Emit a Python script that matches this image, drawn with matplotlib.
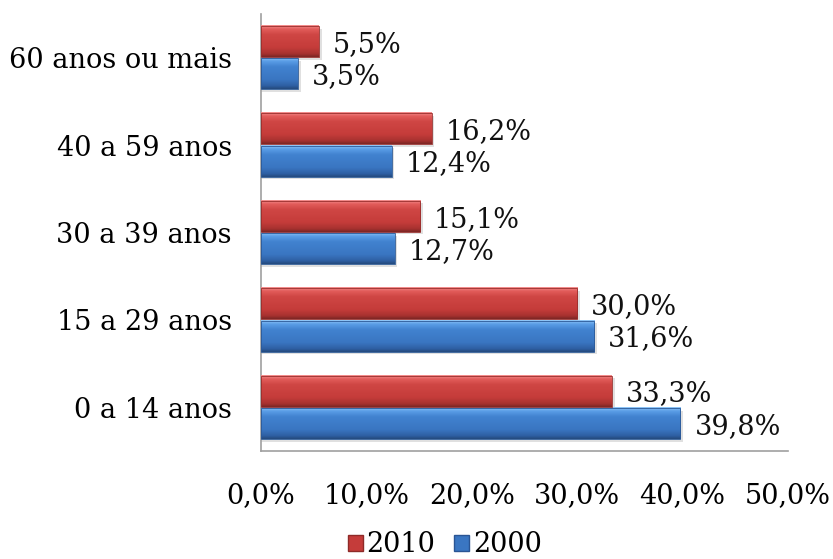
import matplotlib
matplotlib.use("Agg")
import matplotlib.pyplot as plt
import numpy as np
from matplotlib.colors import LinearSegmentedColormap
from matplotlib.patches import Patch

categories = ["0 a 14 anos", "15 a 29 anos", "30 a 39 anos", "40 a 59 anos", "60 anos ou mais"]
series_names = ["2010", "2000"]
values_2010 = [33.3, 30.0, 15.1, 16.2, 5.5]
values_2000 = [39.8, 31.6, 12.7, 12.4, 3.5]
xticks = [0, 10, 20, 30, 40, 50]

plt.rcParams['font.family'] = ['DejaVu Serif']
FS = 19.5

fig = plt.figure(figsize=(8.33, 5.59), dpi=100)
ax = fig.add_axes([261/833, 1-451/559, (788-261)/833, (451-14)/559])

y = np.arange(len(categories))
h = 0.355
off = 0.185

red_stops = [(0.0, "#f49090"), (0.12, "#e25c5a"), (0.3, "#cf4644"), (0.7, "#c53c3a"),
             (0.9, "#a83230"), (1.0, "#7c2624")]
blue_stops = [(0.0, "#92c8f8"), (0.12, "#5a9de6"), (0.3, "#4182cf"), (0.7, "#3a76c2"),
              (0.9, "#2f60a4"), (1.0, "#244a7e")]
cmap_red = LinearSegmentedColormap.from_list("r", red_stops)
cmap_blue = LinearSegmentedColormap.from_list("b", blue_stops)

bars_r = ax.barh(y + off, values_2010, height=h, color="#c53c3a", zorder=2)
bars_b = ax.barh(y - off, values_2000, height=h, color="#3a76c2", zorder=2)

grad = np.linspace(0, 1, 64).reshape(-1, 1)
for bars, cmap in ((bars_r, cmap_red), (bars_b, cmap_blue)):
    for b in bars:
        x0, y0 = b.get_x(), b.get_y()
        w, hh = b.get_width(), b.get_height()
        ax.add_patch(plt.Rectangle((x0, y0 - 0.03), w + 0.25, hh, color="#000000", alpha=0.12,
                                   zorder=1, lw=0))
        ax.imshow(grad, cmap=cmap, extent=[x0, x0 + w, y0, y0 + hh], aspect="auto", zorder=3,
                  interpolation="bilinear", origin="upper")
        ax.add_patch(plt.Rectangle((x0, y0), w, hh, fill=False, ec=cmap(0.93), lw=0.6, zorder=4))

for bars, vals in ((bars_r, values_2010), (bars_b, values_2000)):
    for b, v in zip(bars, vals):
        ax.annotate(f"{v:.1f}%".replace(".", ","), (b.get_width(), b.get_y() + b.get_height()/2),
                    xytext=(10, -2), textcoords="offset points", va="center", ha="left",
                    fontsize=FS, color="#111111", zorder=5)

ax.set_xlim(0, 50)
ax.set_ylim(-0.5, len(categories) - 0.5)
ax.set_xticks(xticks)
ax.set_xticklabels([f"{t:.1f}%".replace(".", ",") for t in xticks], fontsize=FS)
ax.set_yticks(y)
ax.set_yticklabels(categories, fontsize=FS)
ax.tick_params(axis="x", length=0, pad=22)
ax.tick_params(axis="y", length=0, pad=21)
for s in ("top", "right"):
    ax.spines[s].set_visible(False)
for s in ("left", "bottom"):
    ax.spines[s].set_color("#a0a0a0")
    ax.spines[s].set_linewidth(1.2)

handles = [Patch(facecolor="#c53c3a", edgecolor="#8e2a28", label=series_names[0]),
           Patch(facecolor="#3a76c2", edgecolor="#2a5594", label=series_names[1])]
fig.legend(handles=handles, loc="center", bbox_to_anchor=(445/833, 1-545/559), ncol=2,
           frameon=False, fontsize=FS, handlelength=0.55, handleheight=0.55, handletextpad=0.15,
           columnspacing=0.7)

fig.savefig("out.png", dpi=100)
